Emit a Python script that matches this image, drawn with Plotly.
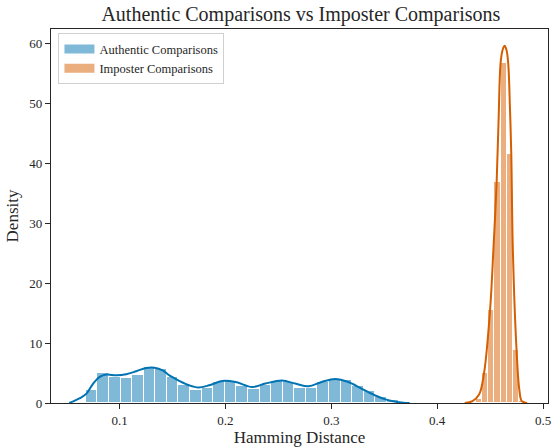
import plotly.graph_objects as go

# ---- data ----
auth_bin_start = 0.0681
auth_bin_width = 0.01094
auth_heights = [2.2, 5.0, 4.4, 4.2, 4.7, 6.05, 5.75, 4.35, 3.07, 2.2, 2.5, 3.55, 3.6,
                2.8, 2.4, 3.07, 3.6, 3.5, 2.5, 2.5, 3.5, 4.0, 3.8, 2.8, 2.0, 1.0, 0.45]

imp_bin_start = 0.4363
imp_bin_width = 0.0059
imp_heights = [0.6, 5.0, 15.6, 36.9, 56.8, 41.6, 8.8, 0.3]

auth_kde_x = [0.0525, 0.0562, 0.0625, 0.0687, 0.0749, 0.0812, 0.0875, 0.0969, 0.1063, 0.1157,
              0.125, 0.1329, 0.1407, 0.147, 0.1563, 0.1657, 0.1745, 0.1845, 0.197, 0.2096,
              0.2252, 0.2378, 0.2533, 0.2659, 0.2784, 0.2909, 0.3035, 0.316, 0.3285, 0.341,
              0.3519, 0.361, 0.368, 0.374]
auth_kde_y = [0.0, 0.28, 0.8, 1.56, 3.2, 4.35, 4.74, 4.62, 4.8, 5.3,
              5.85, 5.9, 5.46, 4.6, 3.7, 2.95, 2.6, 2.95, 3.67, 3.5,
              2.67, 3.24, 3.74, 3.24, 2.79, 3.5, 4.0, 3.5, 2.4, 1.29,
              0.56, 0.2, 0.05, 0.0]

imp_kde_x = [0.426, 0.4333, 0.4396, 0.4443, 0.45, 0.4531, 0.4562, 0.458, 0.4599, 0.4618,
             0.4637, 0.4655, 0.4671, 0.4688, 0.470, 0.4715, 0.475, 0.4777, 0.480, 0.485]
imp_kde_y = [0.0, 0.3, 1.4, 5.0, 15.6, 25.5, 36.9, 47.0, 56.7, 58.9,
             59.6, 58.9, 56.7, 49.0, 41.6, 25.5, 8.8, 2.1, 0.3, 0.0]

series_names = ["Authentic Comparisons", "Imposter Comparisons"]
x_ticks = [0.1, 0.2, 0.3, 0.4, 0.5]
y_ticks = [0, 10, 20, 30, 40, 50, 60]

BLUE = "#0173B2"
ORANGE = "#D55E00"
BLUE_FILL = "rgba(1,115,178,0.5)"
ORANGE_FILL = "rgba(213,94,0,0.5)"
FONT = "Liberation Serif, Times New Roman, serif"
TXT = "#262626"

auth_centers = [auth_bin_start + (i + 0.5) * auth_bin_width for i in range(len(auth_heights))]
imp_centers = [imp_bin_start + (i + 0.5) * imp_bin_width for i in range(len(imp_heights))]

fig = go.Figure()
fig.add_trace(go.Bar(x=auth_centers, y=auth_heights, width=auth_bin_width,
                     marker=dict(color=BLUE_FILL, line=dict(color="white", width=1)),
                     name=series_names[0], showlegend=False))
fig.add_trace(go.Bar(x=imp_centers, y=imp_heights, width=imp_bin_width,
                     marker=dict(color=ORANGE_FILL, line=dict(color="white", width=1)),
                     name=series_names[1], showlegend=False))
fig.add_trace(go.Scatter(x=auth_kde_x, y=auth_kde_y, mode="lines",
                         line=dict(color=BLUE, width=2, shape="spline"),
                         showlegend=False, hoverinfo="skip"))
fig.add_trace(go.Scatter(x=imp_kde_x, y=imp_kde_y, mode="lines",
                         line=dict(color=ORANGE, width=2, shape="spline"),
                         showlegend=False, hoverinfo="skip"))
# legend patches (wide rectangles like matplotlib)
for nm, col in zip(series_names, [BLUE_FILL, ORANGE_FILL]):
    fig.add_trace(go.Scatter(x=[None], y=[None], mode="lines", name=nm,
                             line=dict(color=col, width=9)))

axis_common = dict(showline=True, linecolor=TXT, linewidth=1.25, mirror=True,
                   ticks="outside", ticklen=5, tickwidth=1.25, tickcolor=TXT,
                   showgrid=False, zeroline=False, ticklabeloverflow="allow",
                   tickfont=dict(family=FONT, size=13, color=TXT))

fig.update_layout(
    width=552, height=447,
    margin=dict(l=51, r=1, t=29, b=44),
    paper_bgcolor="white", plot_bgcolor="white",
    barmode="overlay", bargap=0,
    font=dict(family=FONT, color=TXT),
    title=dict(text="Authentic Comparisons vs Imposter Comparisons",
               font=dict(family=FONT, size=20, color=TXT),
               x=0.545, xanchor="center", y=0.985, yanchor="top"),
    legend=dict(x=0.015, y=0.988, xanchor="left", yanchor="top",
                bgcolor="white", bordercolor="#d0d0d0", borderwidth=1,
                tracegroupgap=0, itemwidth=30,
                font=dict(family=FONT, size=12.5, color=TXT)),
    xaxis=dict(range=[0.0352, 0.5047], tickvals=x_ticks, ticktext=[str(v) for v in x_ticks],
               title=dict(text="Hamming Distance", font=dict(family=FONT, size=17, color=TXT), standoff=6),
               **axis_common),
    yaxis=dict(range=[0, 62.4], tickvals=y_ticks,
               title=dict(text="Density", font=dict(family=FONT, size=17, color=TXT), standoff=6),
               **axis_common),
)

fig.write_html("out.html", config={"displayModeBar": False},
               post_script="document.body.style.margin='0';document.body.style.padding='0';")
